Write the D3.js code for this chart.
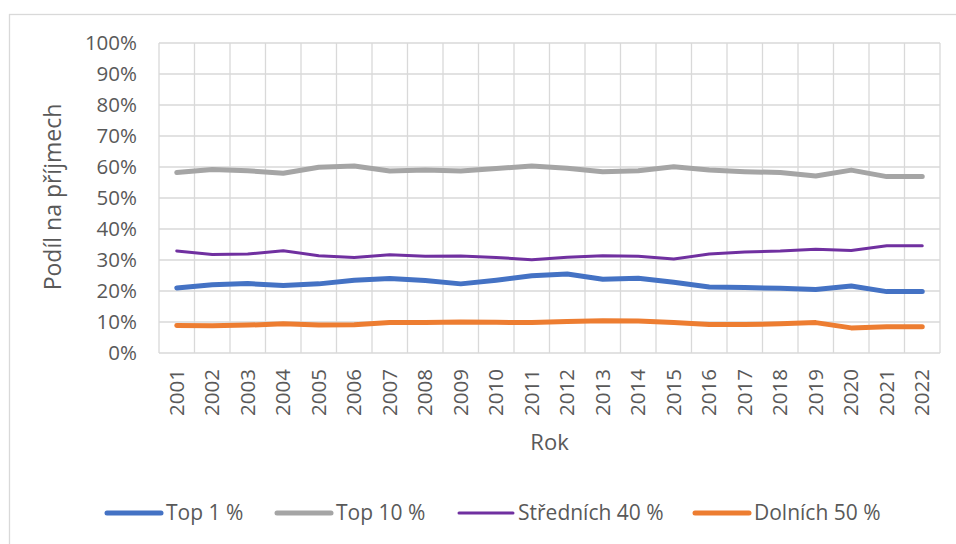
<!DOCTYPE html>
<html lang="cs">
<head>
    <meta charset="UTF-8">
    <title>Podíl na příjmech</title>
    <script src="https://d3js.org/d3.v7.min.js"></script>
    <style>
        body { margin: 0; background: #fff; }
        text { font-family: "Open Sans", sans-serif; fill: #595959; }
    </style>
</head>
<body>
<div id="chart"></div>

<script>
    // data (share of income, %)
    var years = ["2001","2002","2003","2004","2005","2006","2007","2008","2009","2010","2011",
                 "2012","2013","2014","2015","2016","2017","2018","2019","2020","2021","2022"];
    var top1 = [21.0,22.0,22.4,21.8,22.3,23.5,24.0,23.4,22.3,23.5,24.9,
                25.5,23.8,24.1,22.8,21.3,21.1,20.9,20.5,21.6,19.8,19.8];
    var top10 = [58.2,59.2,58.8,58.0,59.9,60.3,58.7,59.0,58.7,59.5,60.3,
                 59.6,58.5,58.8,60.1,59.0,58.5,58.2,57.1,59.0,56.9,56.9];
    var middle40 = [32.9,31.8,31.9,33.0,31.4,30.8,31.7,31.2,31.3,30.8,30.1,
                    30.9,31.4,31.2,30.3,31.9,32.6,32.9,33.5,33.1,34.6,34.6];
    var bottom50 = [8.9,8.8,9.0,9.4,9.0,9.1,9.8,9.8,10.0,9.9,9.8,
                    10.2,10.4,10.3,9.8,9.2,9.2,9.4,9.8,8.1,8.5,8.5];
    var yTicks = [0,10,20,30,40,50,60,70,80,90,100];

    var series = [
        {name: "Top 1 %", values: top1, color: "#4472C4", width: 5},
        {name: "Top 10 %", values: top10, color: "#A5A5A5", width: 5},
        {name: "Středních 40 %", values: middle40, color: "#7030A0", width: 3},
        {name: "Dolních 50 %", values: bottom50, color: "#ED7D31", width: 5}
    ];

    var W = 956, H = 544;
    var margin = {top: 43, right: 16, bottom: 191, left: 159},
        width = W - margin.left - margin.right,
        height = H - margin.top - margin.bottom;

    var svg = d3.select("#chart").append("svg")
        .attr("width", W)
        .attr("height", H);

    // outer chart frame
    svg.append("rect")
        .attr("x", 9.5).attr("y", 14.5)
        .attr("width", 980).attr("height", 560)
        .attr("fill", "none")
        .attr("stroke", "#D9D9D9")
        .attr("stroke-width", 1.3);

    var g = svg.append("g")
        .attr("transform", "translate(" + margin.left + "," + margin.top + ")");

    var x = d3.scaleBand().domain(years).range([0, width]);
    var y = d3.scaleLinear().domain([0, 100]).range([height, 0]);

    // horizontal gridlines
    g.selectAll(".hgrid").data(yTicks).enter().append("line")
        .attr("x1", 0).attr("x2", width)
        .attr("y1", function (d) { return y(d); })
        .attr("y2", function (d) { return y(d); })
        .attr("stroke", "#D9D9D9").attr("stroke-width", 1.3);

    // vertical gridlines at category boundaries
    var bounds = years.map(function (d) { return x(d); }).concat([width]);
    g.selectAll(".vgrid").data(bounds).enter().append("line")
        .attr("x1", function (d) { return d; }).attr("x2", function (d) { return d; })
        .attr("y1", 0).attr("y2", height)
        .attr("stroke", "#D9D9D9").attr("stroke-width", 1.3);

    // y axis labels
    var yAxis = g.append("g")
        .call(d3.axisLeft(y).tickValues(yTicks).tickSize(0).tickPadding(22)
            .tickFormat(function (d) { return d + "%"; }));
    yAxis.select(".domain").remove();
    yAxis.selectAll("text")
        .style("font-family", "Open Sans").style("font-size", "20.5px").attr("fill", "#595959");

    // x axis labels, rotated
    var xAxis = g.append("g")
        .attr("transform", "translate(0," + height + ")")
        .call(d3.axisBottom(x).tickSize(0));
    xAxis.select(".domain").remove();
    xAxis.selectAll("text")
        .style("font-family", "Open Sans").style("font-size", "20.5px").attr("fill", "#595959")
        .attr("transform", "rotate(-90)")
        .attr("text-anchor", "end")
        .attr("x", -16).attr("y", 0).attr("dy", "0.35em");

    // axis titles
    g.append("text")
        .attr("transform", "rotate(-90)")
        .attr("x", -height / 2 + 1)
        .attr("y", -98)
        .attr("text-anchor", "middle")
        .style("font-size", "23px")
        .text("Podíl na příjmech");

    g.append("text")
        .attr("x", width / 2)
        .attr("y", 407)
        .attr("text-anchor", "middle")
        .style("font-size", "22px")
        .text("Rok");

    // lines
    var line = d3.line()
        .x(function (d, i) { return x(years[i]) + x.bandwidth() / 2; })
        .y(function (d) { return y(d); });

    g.selectAll(".series").data(series).enter().append("path")
        .attr("fill", "none")
        .attr("stroke", function (d) { return d.color; })
        .attr("stroke-width", function (d) { return d.width; })
        .attr("stroke-linejoin", "round")
        .attr("stroke-linecap", "round")
        .attr("d", function (d) { return line(d.values); });

    // legend
    var legendX = [107, 277, 459, 695];
    var legend = svg.selectAll(".legend").data(series).enter().append("g")
        .attr("transform", function (d, i) { return "translate(" + legendX[i] + ",513)"; });
    legend.append("line")
        .attr("x1", 0).attr("x2", 54)
        .attr("stroke", function (d) { return d.color; })
        .attr("stroke-width", function (d) { return d.width; })
        .attr("stroke-linecap", "round");
    legend.append("text")
        .attr("x", 59).attr("dy", "0.35em")
        .style("font-size", "21px")
        .text(function (d) { return d.name; });
</script>
</body>
</html>
